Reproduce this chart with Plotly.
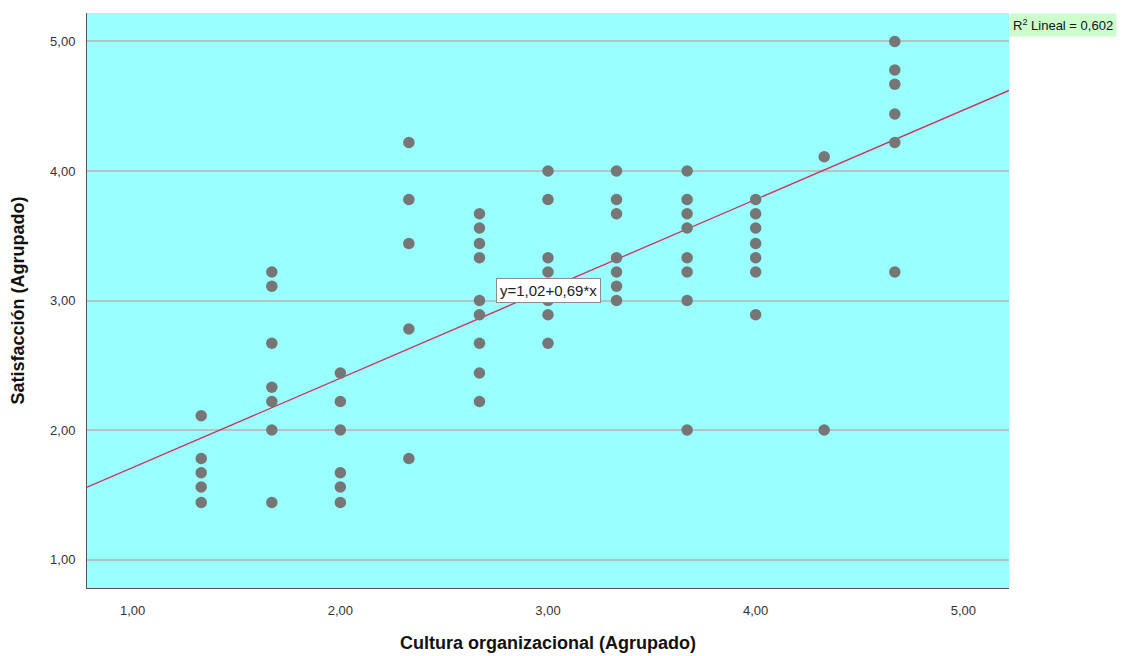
import plotly.graph_objects as go

# Grouped x categories (Cultura organizacional) and the y values observed in each column
x_groups = [1.33, 1.67, 2.00, 2.33, 2.67, 3.00, 3.33, 3.67, 4.00, 4.33, 4.67]
y_col_133 = [2.11, 1.78, 1.67, 1.56, 1.44]
y_col_167 = [3.22, 3.11, 2.67, 2.33, 2.22, 2.00, 1.44]
y_col_200 = [2.44, 2.22, 2.00, 1.67, 1.56, 1.44]
y_col_233 = [4.22, 3.78, 3.44, 2.78, 1.78]
y_col_267 = [3.67, 3.56, 3.44, 3.33, 3.00, 2.89, 2.67, 2.44, 2.22]
y_col_300 = [4.00, 3.78, 3.33, 3.22, 3.00, 2.89, 2.67]
y_col_333 = [4.00, 3.78, 3.67, 3.33, 3.22, 3.11, 3.00]
y_col_367 = [4.00, 3.78, 3.67, 3.56, 3.33, 3.22, 3.00, 2.00]
y_col_400 = [3.78, 3.67, 3.56, 3.44, 3.33, 3.22, 2.89]
y_col_433 = [4.11, 2.00]
y_col_467 = [5.00, 4.78, 4.67, 4.44, 4.22, 3.22]
y_columns = [y_col_133, y_col_167, y_col_200, y_col_233, y_col_267, y_col_300,
             y_col_333, y_col_367, y_col_400, y_col_433, y_col_467]

# Linear fit reported on the chart
intercept = 1.02
slope = 0.69
r_squared = "0,602"

tick_vals = [1, 2, 3, 4, 5]
tick_text = ["1,00", "2,00", "3,00", "4,00", "5,00"]
axis_range = [0.78, 5.22]

xs, ys = [], []
for xv, col in zip(x_groups, y_columns):
    for yv in col:
        xs.append(xv)
        ys.append(yv)

fit_x = axis_range
fit_y = [intercept + slope * v for v in fit_x]

fig = go.Figure()
fig.add_trace(go.Scatter(
    x=fit_x, y=fit_y, mode="lines",
    line=dict(color="#D22E58", width=1.3),
    hoverinfo="skip", showlegend=False,
))
fig.add_trace(go.Scatter(
    x=xs, y=ys, mode="markers",
    marker=dict(color="#767676", size=11.5, line=dict(width=0)),
    showlegend=False,
))

fig.add_annotation(
    x=3.0, y=3.08, xref="x", yref="y",
    text="y=1,02+0,69*x", showarrow=False,
    font=dict(family="Liberation Sans, Arial", size=15, color="#222222"),
    bgcolor="white", bordercolor="#8c8c8c", borderwidth=1, borderpad=3,
)
fig.add_annotation(
    x=1.0, y=1.0, xref="paper", yref="paper", xanchor="left", yanchor="top",
    text="R<sup>2</sup> Lineal = " + r_squared, showarrow=False,
    font=dict(family="Liberation Sans, Arial", size=13, color="#111111"),
    bgcolor="#CCFFCC", borderpad=3,
)

# The page body adds an 8px offset, so the figure is drawn 8px smaller
fig.update_layout(
    width=1118, height=648,
    margin=dict(l=79, r=117, t=5, b=68),
    paper_bgcolor="white",
    plot_bgcolor="#99FFFF",
    font=dict(family="Liberation Sans, Arial", size=13, color="#333333"),
    xaxis=dict(
        range=axis_range, tickvals=tick_vals, ticktext=tick_text,
        showgrid=False, zeroline=False,
        showline=True, linecolor="#555555", linewidth=1,
        ticks="", ticklabelstandoff=10,
        title=dict(text="Cultura organizacional (Agrupado)",
                   font=dict(family="Liberation Sans, Arial", size=18, color="#111111", weight="bold"),
                   standoff=19),
    ),
    yaxis=dict(
        range=axis_range, tickvals=tick_vals, ticktext=tick_text,
        showgrid=True, gridcolor="#B4C4C4", gridwidth=1.5, zeroline=False,
        showline=True, linecolor="#555555", linewidth=1,
        ticks="", ticklabelstandoff=8,
        title=dict(text="Satisfacción (Agrupado)",
                   font=dict(family="Liberation Sans, Arial", size=18, color="#111111", weight="bold"),
                   standoff=20),
    ),
)

fig.write_html("out.html")
